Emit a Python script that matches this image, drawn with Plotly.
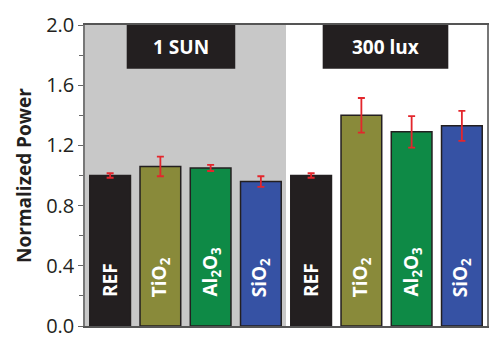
import plotly.graph_objects as go

materials = ["REF", "TiO<sub>2</sub>", "Al<sub>2</sub>O<sub>3</sub>", "SiO<sub>2</sub>",
             "REF", "TiO<sub>2</sub>", "Al<sub>2</sub>O<sub>3</sub>", "SiO<sub>2</sub>"]
conditions = ["1 SUN", "300 lux"]
power_1sun = [1.00, 1.06, 1.05, 0.96]
err_1sun = [0.015, 0.065, 0.02, 0.035]
power_300lux = [1.00, 1.40, 1.29, 1.33]
err_300lux = [0.015, 0.115, 0.105, 0.10]
colors = ["#231f20", "#898a3a", "#0e8a46", "#3652a4"]
yticks = [0.0, 0.4, 0.8, 1.2, 1.6, 2.0]

values = power_1sun + power_300lux
errors = err_1sun + err_300lux
xs = list(range(len(values)))
bar_colors = colors + colors

FONT = "Open Sans"

fig = go.Figure()
fig.add_trace(go.Bar(
    x=xs, y=values, width=0.81,
    marker=dict(color=bar_colors, line=dict(color="#231f20", width=1.5)),
    error_y=dict(type="data", array=errors, visible=True, color="#e3262c",
                 thickness=1.8, width=3.5),
    showlegend=False, hoverinfo="skip",
))

shapes = [
    dict(type="rect", xref="x", yref="paper", x0=-0.5, x1=3.5, y0=0, y1=1,
         fillcolor="#c8c8c8", line=dict(width=0), layer="below"),
    dict(type="rect", xref="x", yref="y", x0=0.33, x1=2.49, y0=1.71, y1=2.0,
         fillcolor="#231f20", line=dict(width=0), layer="above"),
    dict(type="rect", xref="x", yref="y", x0=4.23, x1=6.73, y0=1.71, y1=2.01,
         fillcolor="#231f20", line=dict(width=0), layer="above"),
]

annotations = [
    dict(x=(0.33 + 2.49) / 2, y=1.855, xref="x", yref="y", text="<b>" + conditions[0] + "</b>",
         showarrow=False, font=dict(family=FONT, size=19, color="white")),
    dict(x=(4.23 + 6.73) / 2, y=1.855, xref="x", yref="y", text="<b>" + conditions[1] + "</b>",
         showarrow=False, font=dict(family=FONT, size=19, color="white")),
]
for i, m in enumerate(materials):
    annotations.append(dict(
        x=i, y=0.18, xref="x", yref="y", text="<b>" + m + "</b>", textangle=-90,
        xanchor="center", yanchor="bottom", showarrow=False,
        font=dict(family=FONT, size=19, color="white"),
    ))

fig.update_layout(
    width=500, height=350,
    margin=dict(l=85, r=11, t=23, b=22),
    paper_bgcolor="white", plot_bgcolor="white",
    shapes=shapes, annotations=annotations,
    font=dict(family=FONT, color="#231f20"),
    xaxis=dict(range=[-0.5, 7.5], showticklabels=False, ticks="", showgrid=False,
               zeroline=False, showline=True, linecolor="#555555", linewidth=1.5,
               mirror=True),
    yaxis=dict(range=[0, 2.0], tickvals=yticks, ticktext=[f"{v:.1f}" for v in yticks],
               ticks="outside", ticklen=5, tickcolor="#666666", tickwidth=1.2,
               minor=dict(dtick=0.2, ticks="outside", ticklen=4, tickcolor="#666666", tickwidth=1.2),
               showgrid=False, zeroline=False, showline=True, linecolor="#777777",
               linewidth=1.5, mirror=True,
               tickfont=dict(family=FONT, size=20, color="#231f20"),
               title=dict(text="<b>Normalized Power</b>", standoff=9,
                          font=dict(family=FONT, size=19, color="#231f20"))),
)

fig.write_html("out.html")
